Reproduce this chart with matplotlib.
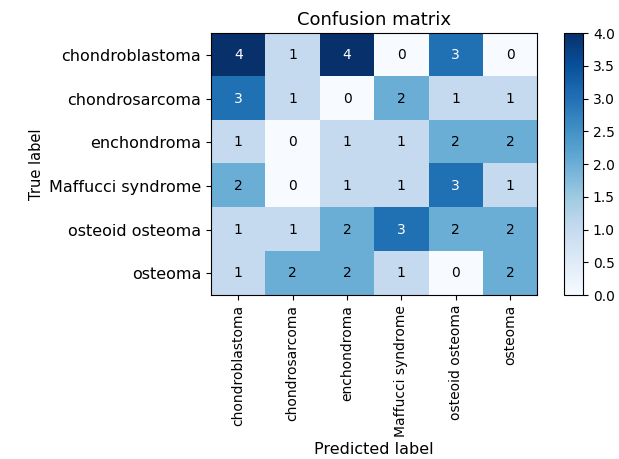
import matplotlib
matplotlib.use('Agg')
import matplotlib.pyplot as plt
import numpy as np

classes = ['chondroblastoma', 'chondrosarcoma', 'enchondroma',
           'Maffucci syndrome', 'osteoid osteoma', 'osteoma']

row_chondroblastoma = [4, 1, 4, 0, 3, 0]
row_chondrosarcoma = [3, 1, 0, 2, 1, 1]
row_enchondroma = [1, 0, 1, 1, 2, 2]
row_maffucci = [2, 0, 1, 1, 3, 1]
row_osteoid = [1, 1, 2, 3, 2, 2]
row_osteoma = [1, 2, 2, 1, 0, 2]

cm = np.array([row_chondroblastoma, row_chondrosarcoma, row_enchondroma,
               row_maffucci, row_osteoid, row_osteoma])

fig = plt.figure(figsize=(6.19, 4.59), dpi=100)
ax = fig.add_axes([0.341, 0.357, 0.527, 0.571])
cax = fig.add_axes([0.911, 0.357, 0.031, 0.571])

im = ax.imshow(cm, interpolation='nearest', cmap=plt.cm.Blues, aspect='auto')
ax.set_title('Confusion matrix', fontsize=13)
fig.colorbar(im, cax=cax)
cax.tick_params(labelsize=10)

ticks = np.arange(len(classes))
ax.set_xticks(ticks)
ax.set_xticklabels(classes, rotation=90, fontsize=10)
ax.set_yticks(ticks)
ax.set_yticklabels(classes, fontsize=11.5)

thresh = cm.max() / 2.
for i in range(cm.shape[0]):
    for j in range(cm.shape[1]):
        ax.text(j, i, format(cm[i, j], 'd'),
                ha='center', va='center', fontsize=10,
                color='white' if cm[i, j] > thresh else 'black')

ax.set_ylabel('True label', fontsize=10.5)
ax.set_xlabel('Predicted label', fontsize=11.5)

fig.savefig('out.png', dpi=100)
